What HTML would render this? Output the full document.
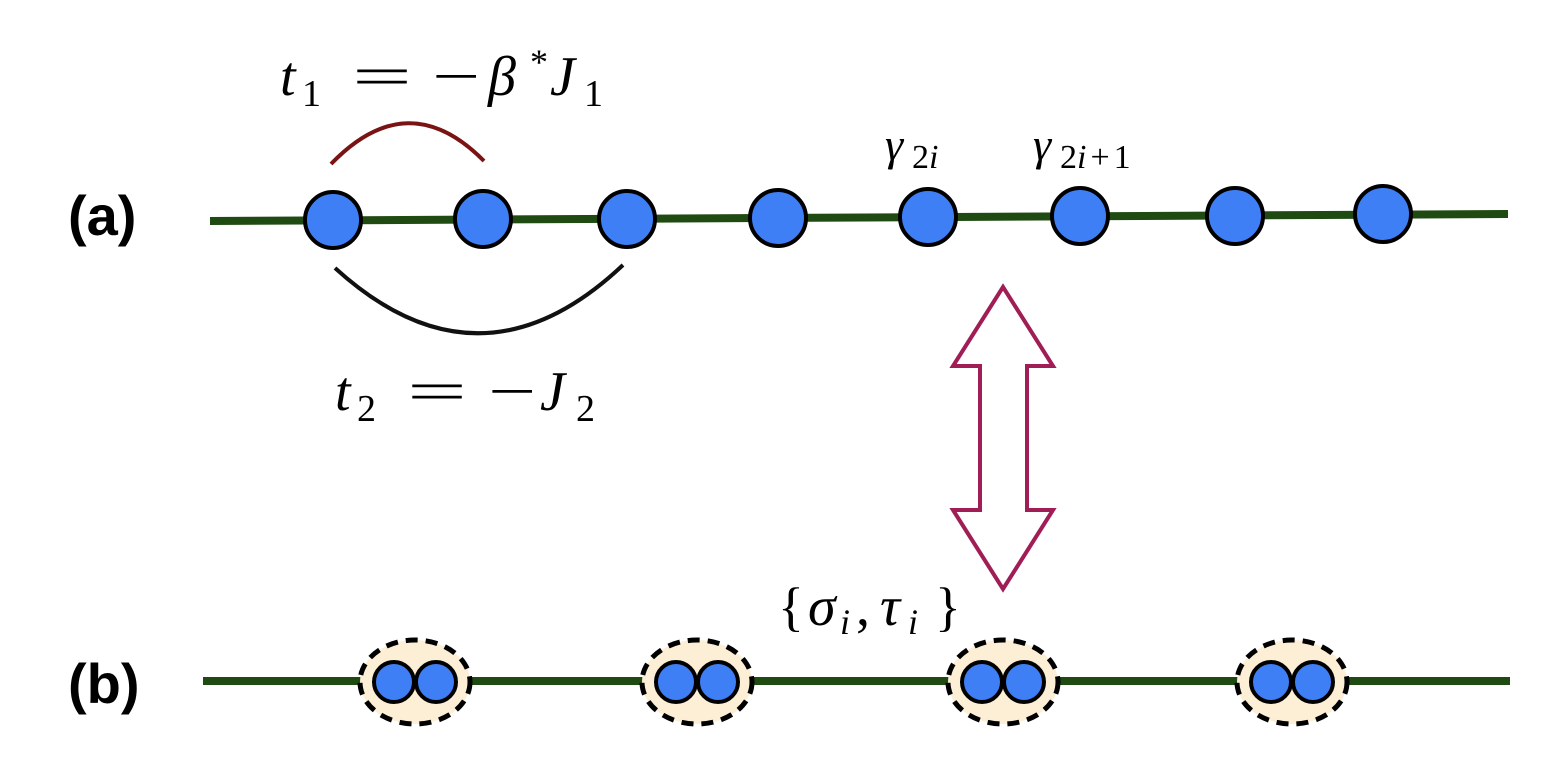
<!DOCTYPE html>
<html><head><style>body{margin:0;background:#fff}</style></head><body>
<svg width="1566" height="766" xmlns="http://www.w3.org/2000/svg">
<g font-family="Liberation Serif, serif" font-size="56">
<text x="280" y="95" font-style="italic">t</text><text x="302" y="106" font-size="38">1</text>
<text x="352" y="95" textLength="60" lengthAdjust="spacingAndGlyphs">=</text><text x="432" y="95" textLength="48" lengthAdjust="spacingAndGlyphs">−</text>
<text x="488" y="95" font-style="italic">β</text><text x="530" y="74" font-size="36">*</text>
<text x="550" y="95" font-style="italic">J</text><text x="584" y="106" font-size="38">1</text>

<text x="335" y="410" font-style="italic">t</text><text x="357" y="421" font-size="38">2</text>
<text x="407" y="410" textLength="60" lengthAdjust="spacingAndGlyphs">=</text><text x="488" y="410" textLength="48" lengthAdjust="spacingAndGlyphs">−</text>
<text x="540" y="410" font-style="italic">J</text><text x="576" y="421" font-size="38">2</text>

<text x="885" y="160" font-size="46" font-style="italic">γ</text><text x="912" y="168" font-size="34">2<tspan font-style="italic">i</tspan></text>
<text x="1033" y="160" font-size="46" font-style="italic">γ</text><text x="1060" y="168" font-size="34">2<tspan font-style="italic">i</tspan><tspan dx="4">+</tspan><tspan dx="4">1</tspan></text>

<text x="778" y="625" font-size="54">{</text>
<text x="808" y="625" font-style="italic">σ</text><text x="840" y="634" font-size="36" font-style="italic">i</text>
<text x="856" y="625">,</text>
<text x="880" y="625" font-style="italic">τ</text><text x="908" y="634" font-size="36" font-style="italic">i</text>
<text x="935" y="625" font-size="54">}</text>
</g>
<g font-family="Liberation Sans, sans-serif" font-weight="bold" font-size="56">
<text x="68" y="235">(a)</text>
<text x="68" y="703">(b)</text>
</g>
<line x1="210" y1="221" x2="1508" y2="214" stroke="#1f4a12" stroke-width="8"/>
<path d="M331 164 Q408 84 484 161" fill="none" stroke="#7a1414" stroke-width="4"/>
<path d="M335 268 Q480 400 623 265" fill="none" stroke="#111" stroke-width="4"/>
<g fill="#3f7ff5" stroke="#000" stroke-width="4">
<circle cx="333" cy="220" r="28"/><circle cx="483" cy="219" r="28"/><circle cx="627" cy="219" r="28"/><circle cx="778" cy="218" r="28"/><circle cx="928" cy="217" r="28"/><circle cx="1080" cy="216" r="28"/><circle cx="1235" cy="216" r="28"/><circle cx="1383" cy="214" r="28"/>
</g>
<polygon points="1003,287 1053,366 1027,366 1027,510 1053,510 1003,589 953,510 980,510 980,366 953,366" fill="none" stroke="#a01d55" stroke-width="4"/>
<line x1="203" y1="681" x2="1510" y2="681" stroke="#1f4a12" stroke-width="8"/>
<g>
<g transform="translate(415,682)"><ellipse rx="55" ry="42" fill="#fcefd5" stroke="#000" stroke-width="5" stroke-dasharray="12 8"/><circle cx="-21" r="20" fill="#3f7ff5" stroke="#000" stroke-width="4"/><circle cx="21" r="20" fill="#3f7ff5" stroke="#000" stroke-width="4"/></g>
<g transform="translate(697,682)"><ellipse rx="55" ry="42" fill="#fcefd5" stroke="#000" stroke-width="5" stroke-dasharray="12 8"/><circle cx="-21" r="20" fill="#3f7ff5" stroke="#000" stroke-width="4"/><circle cx="21" r="20" fill="#3f7ff5" stroke="#000" stroke-width="4"/></g>
<g transform="translate(1003,682)"><ellipse rx="55" ry="42" fill="#fcefd5" stroke="#000" stroke-width="5" stroke-dasharray="12 8"/><circle cx="-21" r="20" fill="#3f7ff5" stroke="#000" stroke-width="4"/><circle cx="21" r="20" fill="#3f7ff5" stroke="#000" stroke-width="4"/></g>
<g transform="translate(1292,682)"><ellipse rx="55" ry="42" fill="#fcefd5" stroke="#000" stroke-width="5" stroke-dasharray="12 8"/><circle cx="-21" r="20" fill="#3f7ff5" stroke="#000" stroke-width="4"/><circle cx="21" r="20" fill="#3f7ff5" stroke="#000" stroke-width="4"/></g>
</g>
</svg>
</body></html>
